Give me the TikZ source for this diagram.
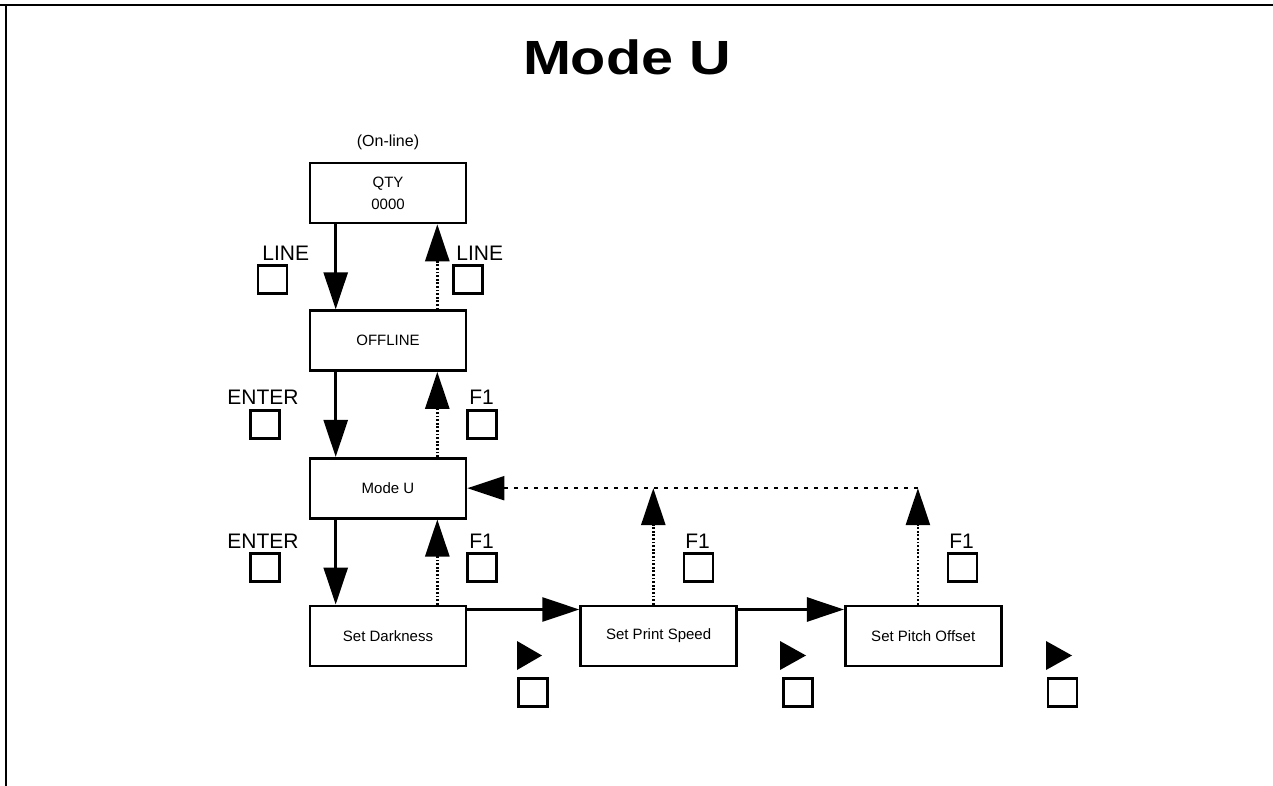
\documentclass[tikz,border=0pt]{standalone}
\usepackage{fontspec}
\setmainfont{Liberation Sans}
\usepackage{tikz}
\usetikzlibrary{arrows.meta,positioning,calc}

\begin{document}
\begin{tikzpicture}[x=0.5pt,y=-0.5pt,>={Triangle[length=18.5pt,width=12pt]},
  font=\fontsize{7.5}{11}\selectfont,node distance=42.5pt,
  screen/.style={draw,line width=1.3pt,minimum width=78pt,minimum height=30pt,inner sep=0pt,align=center},
  keybox/.style={draw,line width=1.1pt,minimum width=14.5pt,minimum height=14pt,inner sep=0pt},
  keyname/.style={font=\fontsize{10.5}{12}\selectfont,inner sep=0pt,anchor=base west},
  go/.style={->,line width=1.4pt},
  back/.style={->,line width=1.4pt,dash pattern=on 0.9pt off 0.9pt},
  ret/.style={->,line width=1pt,dash pattern=on 2pt off 3pt}]
\useasboundingbox (0,0) rectangle (1273,786);
% frame and title
\draw[line width=1.3pt] (0,5) -- (1273,5);
\draw[line width=1.3pt] (6,5) -- (6,786);
\node[font=\bfseries\fontsize{24}{28}\selectfont,inner sep=0pt,anchor=base] (title) at (627,75) {\scalebox{1.2}[1]{Mode U}};
% display screens
\node[screen] (qty) at (388,193) {QTY\\0000};
\node[above=2.3pt of qty,font=\fontsize{8}{9}\selectfont] (online) {(On-line)};
\node[screen,below=of qty] (off) {OFFLINE};
\node[screen,below=of off] (modeu) {Mode U};
\node[screen,below=of modeu] (dark) {Set Darkness};
\node[screen,right=56pt of dark] (speed) {Set Print Speed};
\node[screen,right=53pt of speed] (pitch) {Set Pitch Offset};
% keys
\node[keyname] (lineL) at (262,261) {LINE};
\node[keybox] (klineL) at (272.5,279.5) {};
\node[keyname] (lineR) at (456,261) {LINE};
\node[keybox] (klineR) at (468,279.5) {};
\node[keyname] (enterA) at (227,404) {ENTER};
\node[keybox] (kenterA) at (265,424.5) {};
\node[keyname] (fA) at (469,404) {F1};
\node[keybox] (kfA) at (482,424.5) {};
\node[keyname] (enterB) at (227,548) {ENTER};
\node[keybox] (kenterB) at (265,567.5) {};
\node[keyname] (fB) at (469,548) {F1};
\node[keybox] (kfB) at (482,567.5) {};
\node[keyname] (fC) at (685,548) {F1};
\node[keybox] (kfC) at (698.5,567.5) {};
\node[keyname] (fD) at (949,548) {F1};
\node[keybox] (kfD) at (962.5,567.5) {};
% right-arrow keys
\fill (517,641) -- (542,655.5) -- (517,670) -- cycle;
\node[keybox] (knextA) at (533,692.5) {};
\fill (780,641) -- (806,655.5) -- (780,670) -- cycle;
\node[keybox] (knextB) at (798,692.5) {};
\fill (1046,641) -- (1072,655.5) -- (1046,670) -- cycle;
\node[keybox] (knextC) at (1062.5,692.5) {};
% down / up between screens
\draw[go] ([xshift=13.5pt]qty.south west) -- ([xshift=13.5pt]off.north west);
\draw[back] ([xshift=-15pt]off.north east) -- ([xshift=-15pt]qty.south east);
\draw[go] ([xshift=13.5pt]off.south west) -- ([xshift=13.5pt]modeu.north west);
\draw[back] ([xshift=-15pt]modeu.north east) -- ([xshift=-15pt]off.south east);
\draw[go] ([xshift=13.5pt]modeu.south west) -- ([xshift=13.5pt]dark.north west);
\draw[back] ([xshift=-15pt]dark.north east) -- ([xshift=-15pt]modeu.south east);
% across the settings
\draw[go] ([yshift=-2.5pt]dark.north east) -- ([yshift=-2.5pt]speed.north west);
\draw[go] ([yshift=-2.5pt]speed.north east) -- ([yshift=-2.5pt]pitch.north west);
% back to Mode U
\coordinate (sTop) at ([xshift=37pt]speed.north west);
\coordinate (pTop) at ([xshift=37pt]pitch.north west);
\coordinate (sJoin) at (sTop |- modeu.east);
\coordinate (pJoin) at (pTop |- modeu.east);
\draw[back] (sTop) -- (sJoin);
\draw[back] (pTop) -- (pJoin);
\draw[ret] (pJoin) -- (modeu.east);
\end{tikzpicture}
\end{document}
